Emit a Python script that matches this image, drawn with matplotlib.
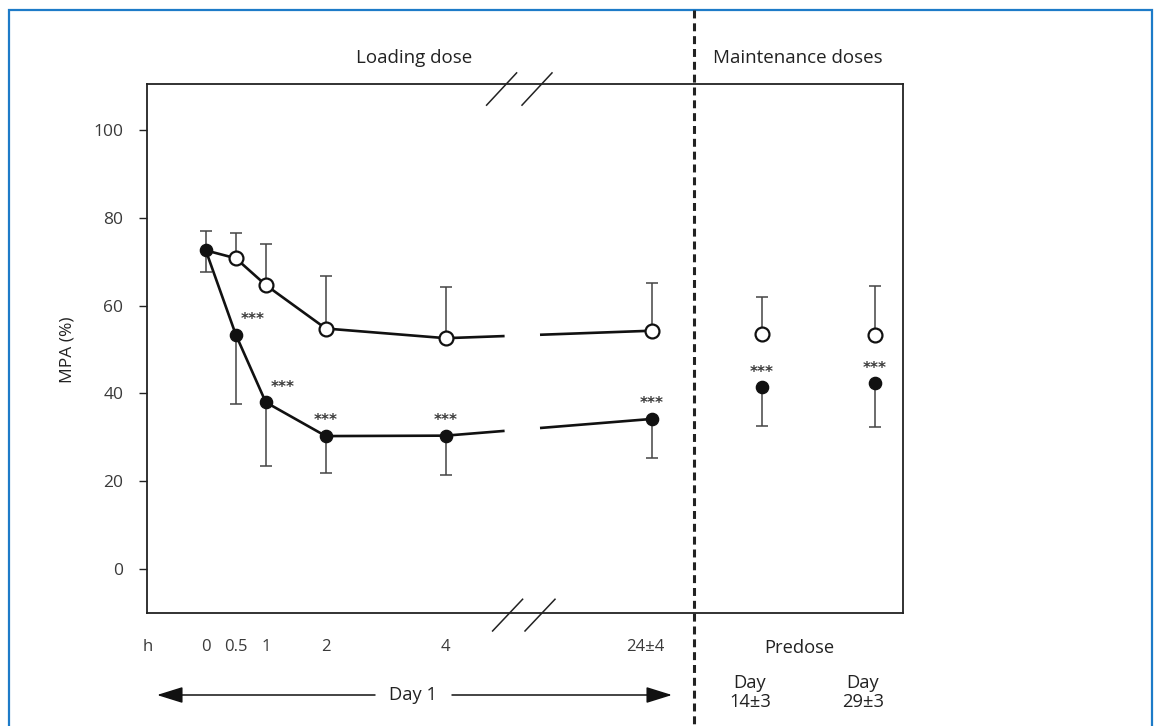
import numpy as np
import matplotlib
matplotlib.use("Agg")
import matplotlib.pyplot as plt
from matplotlib.lines import Line2D
from matplotlib.patches import Rectangle, FancyArrowPatch

plt.rcParams['font.family'] = ['Open Sans', 'DejaVu Sans']

# Day 1 sampling times (h) and MPA activity (%)
hours = [0, 0.5, 1, 2, 4, 24]
hour_labels = ['0', '0.5', '1', '2', '4', '24±4']
open_mean = [72.6, 70.8, 64.7, 54.8, 52.6, 54.3]
open_sd = [4.5, 5.7, 9.3, 11.9, 11.7, 10.8]
filled_mean = [72.6, 53.4, 38.0, 30.3, 30.4, 34.2]
filled_sd = [5.0, 15.8, 14.5, 8.3, 8.9, 8.9]
filled_sig = [False, True, True, True, True, True]

# maintenance doses, predose
predose_labels = ['Day\n14±3', 'Day\n29±3']
predose_open_mean = [53.6, 53.4]
predose_open_sd = [8.4, 11.1]
predose_filled_mean = [41.4, 42.3]
predose_filled_sd = [8.8, 9.9]
predose_sig = [True, True]

W, H = 1157, 726


def px(x):
    return x / W


def py(y):
    return 1 - y / H


def hour_pos(h):
    # linear up to 4 h, then axis break before 24 h
    return h if h <= 4 else 7.43


pos = [hour_pos(h) for h in hours]
predose_pos = [9.27, 11.15]
gap = (4.98, 5.57)

fig = plt.figure(figsize=(W / 100, H / 100), dpi=100)
ax = fig.add_axes([px(147), py(613), px(903 - 147), (613 - 84) / H])
ax.set_xlim(-0.98, 11.62)
ax.set_ylim(-10, 110.5)

line_kw = dict(color='#111111', lw=1.9, solid_capstyle='butt', zorder=2)
err_kw = dict(fmt='none', ecolor='#444444', elinewidth=1.1, capsize=4.3, capthick=1.1, zorder=1)


def broken_line(means):
    xs = pos[:5] + [gap[0], np.nan, gap[1], pos[5]]
    lo = np.interp(gap[0], pos, means)
    hi = np.interp(gap[1], pos, means)
    ys = list(means[:5]) + [lo, np.nan, hi, means[5]]
    ax.plot(xs, ys, **line_kw)


broken_line(open_mean)
broken_line(filled_mean)

# error bars: open upward, filled downward
ax.errorbar(pos, open_mean, yerr=[np.zeros(6), open_sd], **err_kw)
ax.errorbar(pos, filled_mean, yerr=[filled_sd, np.zeros(6)], **err_kw)
ax.errorbar(predose_pos, predose_open_mean, yerr=[np.zeros(2), predose_open_sd], **err_kw)
ax.errorbar(predose_pos, predose_filled_mean, yerr=[predose_filled_sd, np.zeros(2)], **err_kw)

open_mk = dict(marker='o', ms=10, mfc='white', mec='#111111', mew=1.6, ls='none', zorder=4)
fill_mk = dict(marker='o', ms=8.8, mfc='#111111', mec='#111111', ls='none', zorder=5)
# at 0 h both groups coincide; the filled dot covers the open one
ax.plot(pos[1:], open_mean[1:], **open_mk)
ax.plot(predose_pos, predose_open_mean, **open_mk)
ax.plot(pos, filled_mean, **fill_mk)
ax.plot(predose_pos, predose_filled_mean, **fill_mk)

star_kw = dict(textcoords='offset points', ha='center', va='center',
               fontsize=11, fontweight='bold', color='#3a3a3a', family='DejaVu Sans')
for i, (x, y, s) in enumerate(zip(pos, filled_mean, filled_sig)):
    if s:
        dx = 12 if i in (1, 2) else 0
        ax.annotate('***', (x, y), xytext=(dx, 11), **star_kw)
for x, y, s in zip(predose_pos, predose_filled_mean, predose_sig):
    if s:
        ax.annotate('***', (x, y), xytext=(0, 11), **star_kw)

# axes styling
for sp in ax.spines.values():
    sp.set_linewidth(1.3)
    sp.set_color('#222222')
ax.set_yticks([0, 20, 40, 60, 80, 100])
ax.tick_params(axis='y', length=6, width=1, direction='out', pad=11,
               labelsize=12.5, labelcolor='#3a3a3a', color='#222222')
ax.set_xticks([])

# axis-break marks on top and bottom spines
brk_kw = dict(transform=ax.get_xaxis_transform(), color='#222222', lw=1.1, clip_on=False, zorder=6)
for x0 in (4.68, 5.27):
    ax.plot([x0, x0 + 0.5], [0.960, 1.021], **brk_kw)
for x0 in (4.78, 5.32):
    ax.plot([x0, x0 + 0.5], [-0.034, 0.026], **brk_kw)

# x labels
lab_kw = dict(transform=ax.get_xaxis_transform(), ha='center', va='center',
              fontsize=12, color='#3a3a3a', clip_on=False)
ax.text(-0.97, -0.064, 'h', **lab_kw)
for x, lab in zip(pos, hour_labels):
    ax.text(x - (0.1 if lab == '24±4' else 0), -0.064, lab, **lab_kw)
dark = {**lab_kw, 'color': '#222222', 'fontsize': 13.2}
ax.text(9.9, -0.066, 'Predose', **dark)
for x, lab in zip(predose_pos, predose_labels):
    ax.text(x - 0.2, -0.15, lab, linespacing=1.05, **dark)

fig.text(px(68), py(350), 'MPA (%)', rotation=90, ha='center', va='center',
         fontsize=12.5, color='#222222')
fig.text(px(414), py(58), 'Loading dose', ha='center', va='center', fontsize=13.5, color='#222222')
fig.text(px(798), py(58), 'Maintenance doses', ha='center', va='center', fontsize=13.5, color='#222222')

# Day 1 arrows
arr = dict(arrowstyle='-|>,head_length=0.8,head_width=0.25', color='#111111', lw=1.1,
           mutation_scale=20, shrinkA=0, shrinkB=0)
fig.add_artist(FancyArrowPatch((px(375), py(695)), (px(157), py(695)),
                               transform=fig.transFigure, **arr))
fig.add_artist(FancyArrowPatch((px(452), py(695)), (px(672), py(695)),
                               transform=fig.transFigure, **arr))
fig.text(px(413), py(695), 'Day 1', ha='center', va='center', fontsize=13.2, color='#222222')

# dashed divider between loading and maintenance doses
fig.add_artist(Line2D([px(694), px(694)], [py(10), 0], transform=fig.transFigure,
                      color='#222222', lw=2.2, dashes=(2.6, 1.6)))

# blue frame
fig.add_artist(Rectangle((px(9), -0.05), px(1152 - 9), py(10) + 0.05, transform=fig.transFigure,
                         fill=False, ec='#1d7bc8', lw=1.6))

fig.savefig('out.png', dpi=100)
